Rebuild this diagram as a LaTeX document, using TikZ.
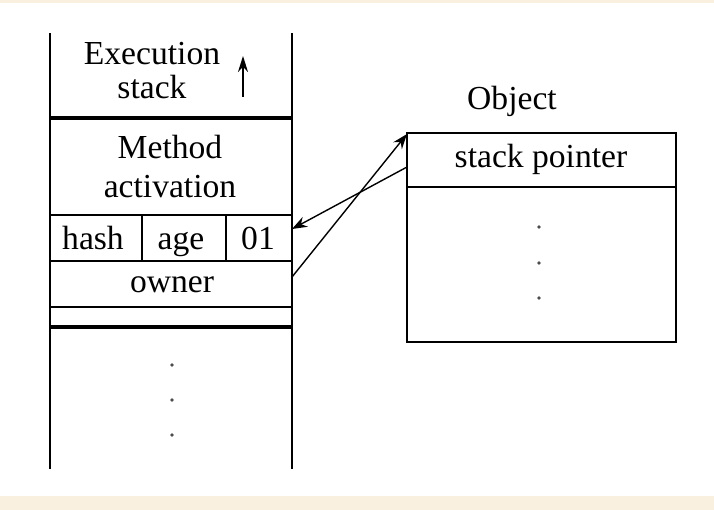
\documentclass[tikz,border=0pt]{standalone}
\usepackage{fontspec}
\setmainfont{Liberation Serif}
\usetikzlibrary{arrows.meta}
\definecolor{bandcol}{RGB}{250,240,224}
\begin{document}
\begin{tikzpicture}[x=0.5pt,y=-0.5pt,
        txt/.style={font=\fontsize{16.8}{18}\selectfont,inner sep=0pt,text height=11.1pt,text depth=0pt},
        rule/.style={line width=1pt},
        heavy/.style={line width=2.2pt},
        link/.style={line width=0.7pt,-{Stealth[length=7.5pt,width=5.5pt]}},
        dot/.style={fill=black!70}]
                \fill[bandcol] (0,0) rectangle (714,3);
                \fill[bandcol] (0,496) rectangle (714,510);
                \useasboundingbox (0,0) rectangle (714,510);
                % execution stack
                \draw[rule] (50,33) -- (50,469);
                \draw[rule] (292,33) -- (292,469);
                \draw[heavy] (50,118) -- (292,118);
                \draw[rule] (50,215) -- (292,215);
                \draw[rule] (50,261) -- (292,261);
                \draw[rule] (50,307) -- (292,307);
                \draw[heavy] (50,327) -- (292,327);
                \draw[rule] (142,215) -- (142,261);
                \draw[rule] (226,215) -- (226,261);
                \node[txt] (exec) at (152,53) {Execution};
                \node[txt] (stk) at (152,87) {stack};
                \coordinate (upS) at (243,97);
                \coordinate (upE) at (243,56);
                \draw[line width=1pt,-{Stealth[length=8pt,width=5pt]}] (upS) -- (upE);
                \node[txt] (meth) at (170,147) {Method};
                \node[txt] (act) at (170,186) {activation};
                \node[txt] (hash) at (93,238) {hash};
                \node[txt] (age) at (181,238) {age};
                \node[txt] (lock) at (258,238) {01};
                \node[txt] (owner) at (172,281) {owner};
                \foreach \y in {365,400,435}
                    \fill[dot] (172,\y) circle (1.8);
                % object
                \node[txt] (obj) at (512,98) {Object};
                \draw[rule] (407,133) rectangle (676,342);
                \draw[rule] (407,187) -- (676,187);
                \node[txt] (sp) at (541,156) {stack pointer};
                \foreach \y in {227,263,298}
                    \fill[dot] (539,\y) circle (1.8);
                % links
                \coordinate (ownerR) at (292,277);
                \coordinate (objTL) at (407,134);
                \coordinate (spL) at (407,167);
                \coordinate (markR) at (292,229);
                \draw[link] (ownerR) -- (objTL);
                \draw[link] (spL) -- (markR);
            \end{tikzpicture}
\end{document}
